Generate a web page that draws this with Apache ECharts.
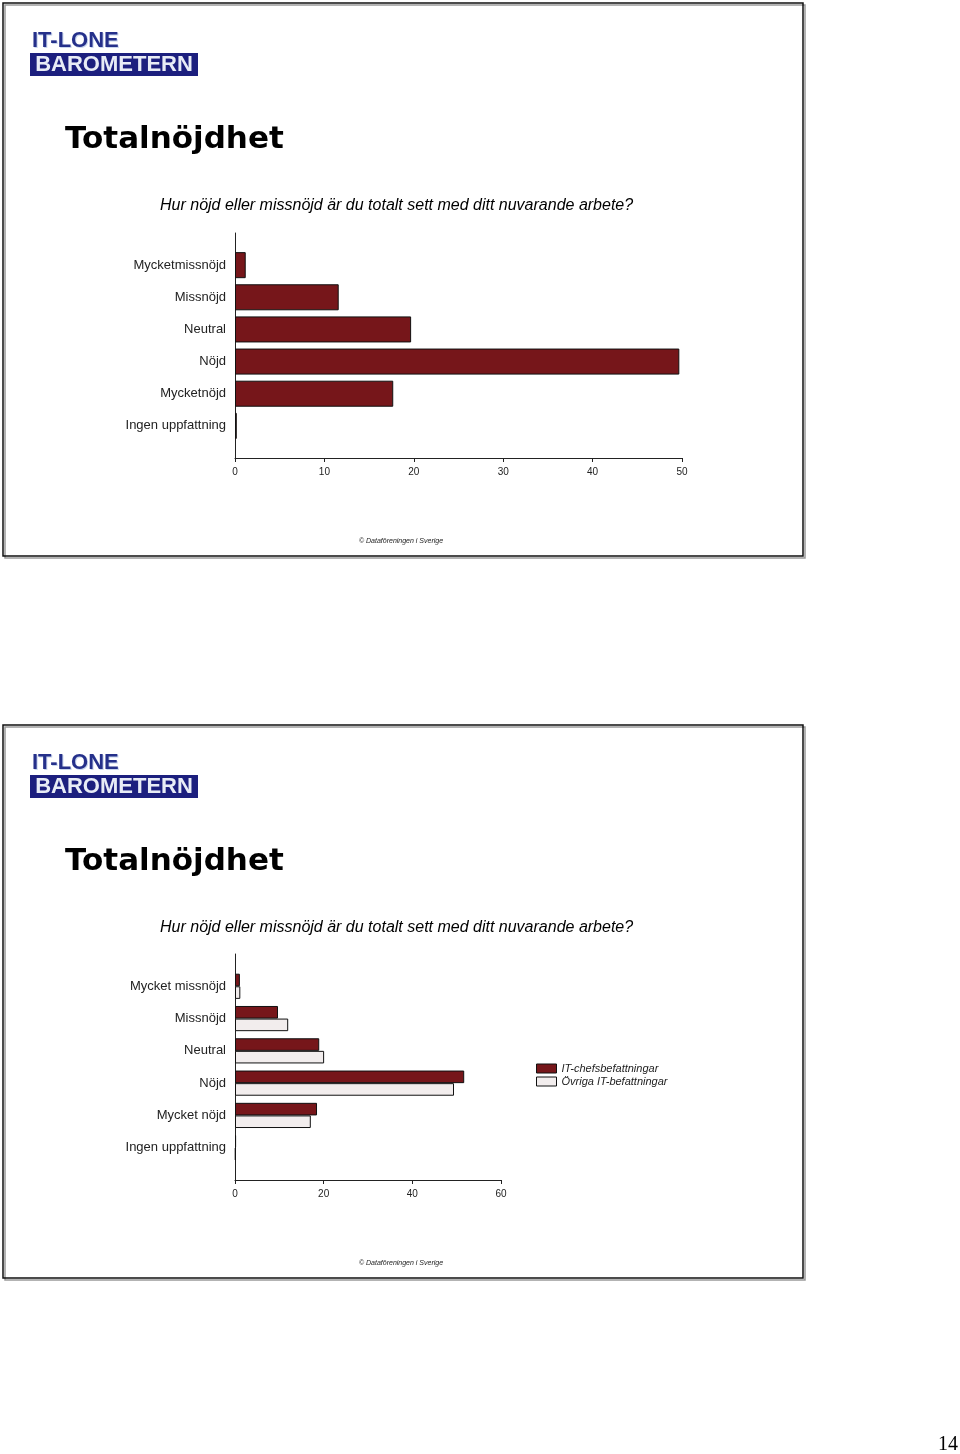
<!DOCTYPE html>
<html>
<head>
<meta charset="utf-8">
<script src="https://cdn.jsdelivr.net/npm/echarts@6/dist/echarts.min.js"></script>
<style>
html,body{margin:0;padding:0;background:#fff;}
#c{width:960px;height:1454px;}
</style>
</head>
<body>
<div id="c"></div>
<script>
// ---- data ----
var categories1 = ['Mycketmissnöjd', 'Missnöjd', 'Neutral', 'Nöjd', 'Mycketnöjd', 'Ingen uppfattning'];
var values1 = [1.2, 11.6, 19.7, 49.7, 17.7, 0.2];
var ticks1 = [0, 10, 20, 30, 40, 50];

var categories2 = ['Mycket missnöjd', 'Missnöjd', 'Neutral', 'Nöjd', 'Mycket nöjd', 'Ingen uppfattning'];
var seriesNames2 = ['IT-chefsbefattningar', 'Övriga IT-befattningar'];
var valuesChefs = [1.1, 9.7, 19.0, 51.7, 18.5, 0.25];
var valuesOvriga = [1.2, 12.0, 20.1, 49.4, 17.1, 0.15];
var ticks2 = [0, 20, 40, 60];

var titleText = 'Totalnöjdhet';
var subtitleText = 'Hur nöjd eller missnöjd är du totalt sett med ditt nuvarande arbete?';
var footerText = '© Dataföreningen i Sverige';
var pageNumber = '14';

// ---- helpers ----
function pad(arr) { return [''].concat(arr, ['']); }
function padV(arr) { return [null].concat(arr, [null]); }

var RED = '#76161a';
var LIGHT = '#f2eded';
var AX = '#222';

function slideGraphics(dy) {
  return [
    // frame shadow + frame
    { type: 'rect', shape: { x: 5, y: 5 + dy, width: 800, height: 553 }, style: { fill: 'none', stroke: '#9a9a9a', lineWidth: 1.5 }, silent: true },
    { type: 'rect', shape: { x: 3, y: 3 + dy, width: 800, height: 553 }, style: { fill: 'none', stroke: '#111', lineWidth: 1.5 }, silent: true },
    // logo
    { type: 'text', x: 33, y: 42 + dy, style: { text: 'IT-LONE', font: 'bold 22px "Liberation Sans Narrow", "Liberation Sans", Arial', fill: '#c9d6ee', textVerticalAlign: 'middle' } },
    { type: 'text', x: 32, y: 41 + dy, style: { text: 'IT-LONE', font: 'bold 22px "Liberation Sans Narrow", "Liberation Sans", Arial', fill: '#25308a', textVerticalAlign: 'middle' } },
    { type: 'rect', shape: { x: 30, y: 53 + dy, width: 168, height: 23 }, style: { fill: '#1c1f7e' } },
    { type: 'text', x: 114, y: 65 + dy, style: { text: 'BAROMETERN', font: 'bold 22px "Liberation Sans Narrow", "Liberation Sans", Arial', fill: '#e8ecf6', textAlign: 'center', textVerticalAlign: 'middle' } },
    // title
    { type: 'text', x: 65, y: 140 + dy, style: { text: titleText, font: 'bold 31px "DejaVu Sans"', fill: '#000', textVerticalAlign: 'middle' } },
    // subtitle
    { type: 'text', x: 160, y: 206 + dy, style: { text: subtitleText, font: 'italic 16px "Liberation Sans", Arial', fill: '#000', textVerticalAlign: 'middle' } },
    // footer
    { type: 'text', x: 401, y: 541 + dy, style: { text: footerText, font: 'italic 7px "Liberation Sans", Arial', fill: '#222', textAlign: 'center', textVerticalAlign: 'middle' } }
  ];
}

var graphics = slideGraphics(0).concat(slideGraphics(722)).concat([
  { type: 'text', x: 948, y: 1445, style: { text: pageNumber, font: '20px "Liberation Serif", "DejaVu Serif", serif', fill: '#000', textAlign: 'center', textVerticalAlign: 'middle' } }
]);

var chart = echarts.init(document.getElementById('c'), null, { renderer: 'canvas' });

function xAxisCfg(gridIndex, ticks) {
  var interval = ticks[1] - ticks[0];
  return {
    type: 'value', gridIndex: gridIndex,
    min: ticks[0], max: ticks[ticks.length - 1], interval: interval,
    splitLine: { show: false },
    axisLine: { show: true, lineStyle: { color: AX, width: 1 } },
    axisTick: { show: true, length: 4, lineStyle: { color: AX } },
    axisLabel: { fontSize: 10, color: '#222', fontFamily: '"Liberation Sans", Arial', margin: 9 }
  };
}
function yAxisCfg(gridIndex, cats) {
  return {
    type: 'category', gridIndex: gridIndex, inverse: true, boundaryGap: false,
    data: pad(cats),
    axisLine: { show: true, lineStyle: { color: AX, width: 1 } },
    axisTick: { show: false },
    splitLine: { show: false },
    axisLabel: { fontSize: 13, color: '#222', fontFamily: '"Liberation Sans", Arial', margin: 9, interval: 0 }
  };
}

var option = {
  animation: false,
  backgroundColor: '#fff',
  graphic: graphics,
  grid: [
    { left: 235, top: 233, width: 447, height: 225 },
    { left: 235, top: 954, width: 266, height: 226 }
  ],
  xAxis: [xAxisCfg(0, ticks1), xAxisCfg(1, ticks2)],
  yAxis: [yAxisCfg(0, categories1), yAxisCfg(1, categories2)],
  legend: {
    show: true,
    left: 531, top: 1058,
    orient: 'vertical',
    icon: 'rect',
    itemWidth: 20, itemHeight: 9, itemGap: 2,
    data: seriesNames2,
    itemStyle: { borderWidth: 1 },
    textStyle: { fontSize: 11, fontStyle: 'italic', color: '#222', fontFamily: '"Liberation Sans", Arial' }
  },
  series: [
    {
      name: 'Totalt', type: 'bar', xAxisIndex: 0, yAxisIndex: 0,
      data: padV(values1),
      barCategoryGap: '19%',
      itemStyle: { color: RED, borderColor: '#111', borderWidth: 1 }
    },
    {
      name: seriesNames2[0], type: 'bar', xAxisIndex: 1, yAxisIndex: 1,
      data: padV(valuesChefs),
      barGap: '0%', barCategoryGap: '22%',
      itemStyle: { color: RED, borderColor: '#111', borderWidth: 1 }
    },
    {
      name: seriesNames2[1], type: 'bar', xAxisIndex: 1, yAxisIndex: 1,
      data: padV(valuesOvriga),
      barGap: '0%', barCategoryGap: '22%',
      itemStyle: { color: LIGHT, borderColor: '#111', borderWidth: 1 }
    }
  ]
};
chart.setOption(option);
</script>
</body>
</html>
